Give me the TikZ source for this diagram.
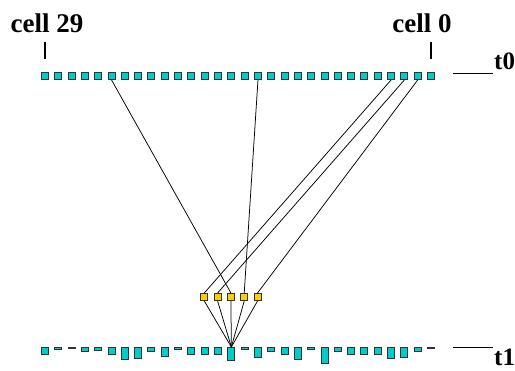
\documentclass[tikz,border=0pt]{standalone}
\usepackage{fontspec}
\setmainfont{Liberation Serif}
\usetikzlibrary{calc}
\definecolor{cellcyan}{RGB}{0,204,204}
\definecolor{cellgold}{RGB}{255,204,0}

\begin{document}
\begin{tikzpicture}[x=1pt,y=-1pt,
  cell/.style={draw=black!80,fill=cellcyan,line width=1pt,inner sep=0pt,minimum width=7pt,minimum height=7pt},
  bar/.style={cell,anchor=north,minimum height=#1pt},
  mover/.style={cell,fill=cellgold},
  link/.style={draw=black,line width=.75pt},
  lbl/.style={font=\fontsize{27}{30}\selectfont\bfseries,inner sep=0pt},
  tlbl/.style={lbl,font=\fontsize{25}{28}\selectfont\bfseries,anchor=base west},
  tick/.style={line width=1.3pt}
]
\useasboundingbox (0,0) rectangle (515,371);
% cells at t0
\foreach \i in {0,...,29} {\node[cell] (top\i) at (431-13.31*\i,76) {};}
% cells at t1, heights = counts
\foreach \i/\h in {29/7,28/2,27/1,26/4,25/3,24/7,23/12,22/11,21/4,20/9,19/2,18/7,17/7,16/7,15/13,
                   14/2,13/10,12/4,11/7,10/12,9/2,8/16,7/4,6/7,5/7,4/7,3/11,2/10,1/4,0/1}
  {\node[bar=\h] (bot\i) at (431-13.31*\i,347) {};}
% moved particles
\foreach \j in {1,...,5} {\node[mover] (mv\j) at (204.3+13.31*\j-13.31,297) {};}
\foreach \c/\j in {24/3,13/4,3/1,2/2,1/5} {\draw[link] (top\c.south) -- (mv\j.north);}
\foreach \j in {1,...,5} {\draw[link] (mv\j.south) -- (bot15.north);}
% labels
\node[lbl,anchor=base] (lab29) at (47,33) {cell 29};
\node[lbl,anchor=base] (lab0) at (422,33) {cell 0};
\draw[tick,shorten <=9pt,shorten >=12.5pt] (lab29.south -| top29.north) -- (top29.north);
\draw[tick,shorten <=9pt,shorten >=12.5pt] (lab0.south -| top0.north) -- (top0.north);
\node[tlbl] (t0) at (494,70) {t0};
\node[tlbl] (t1) at (494,366) {t1};
\coordinate (t0a) at (453,73);
\coordinate (t1a) at (453,347.3);
\draw[link] (t0a) -- ([xshift=-1pt]t0a -| t0.west);
\draw[link] (t1a) -- ([xshift=-1pt]t1a -| t1.west);
\end{tikzpicture}
\end{document}
